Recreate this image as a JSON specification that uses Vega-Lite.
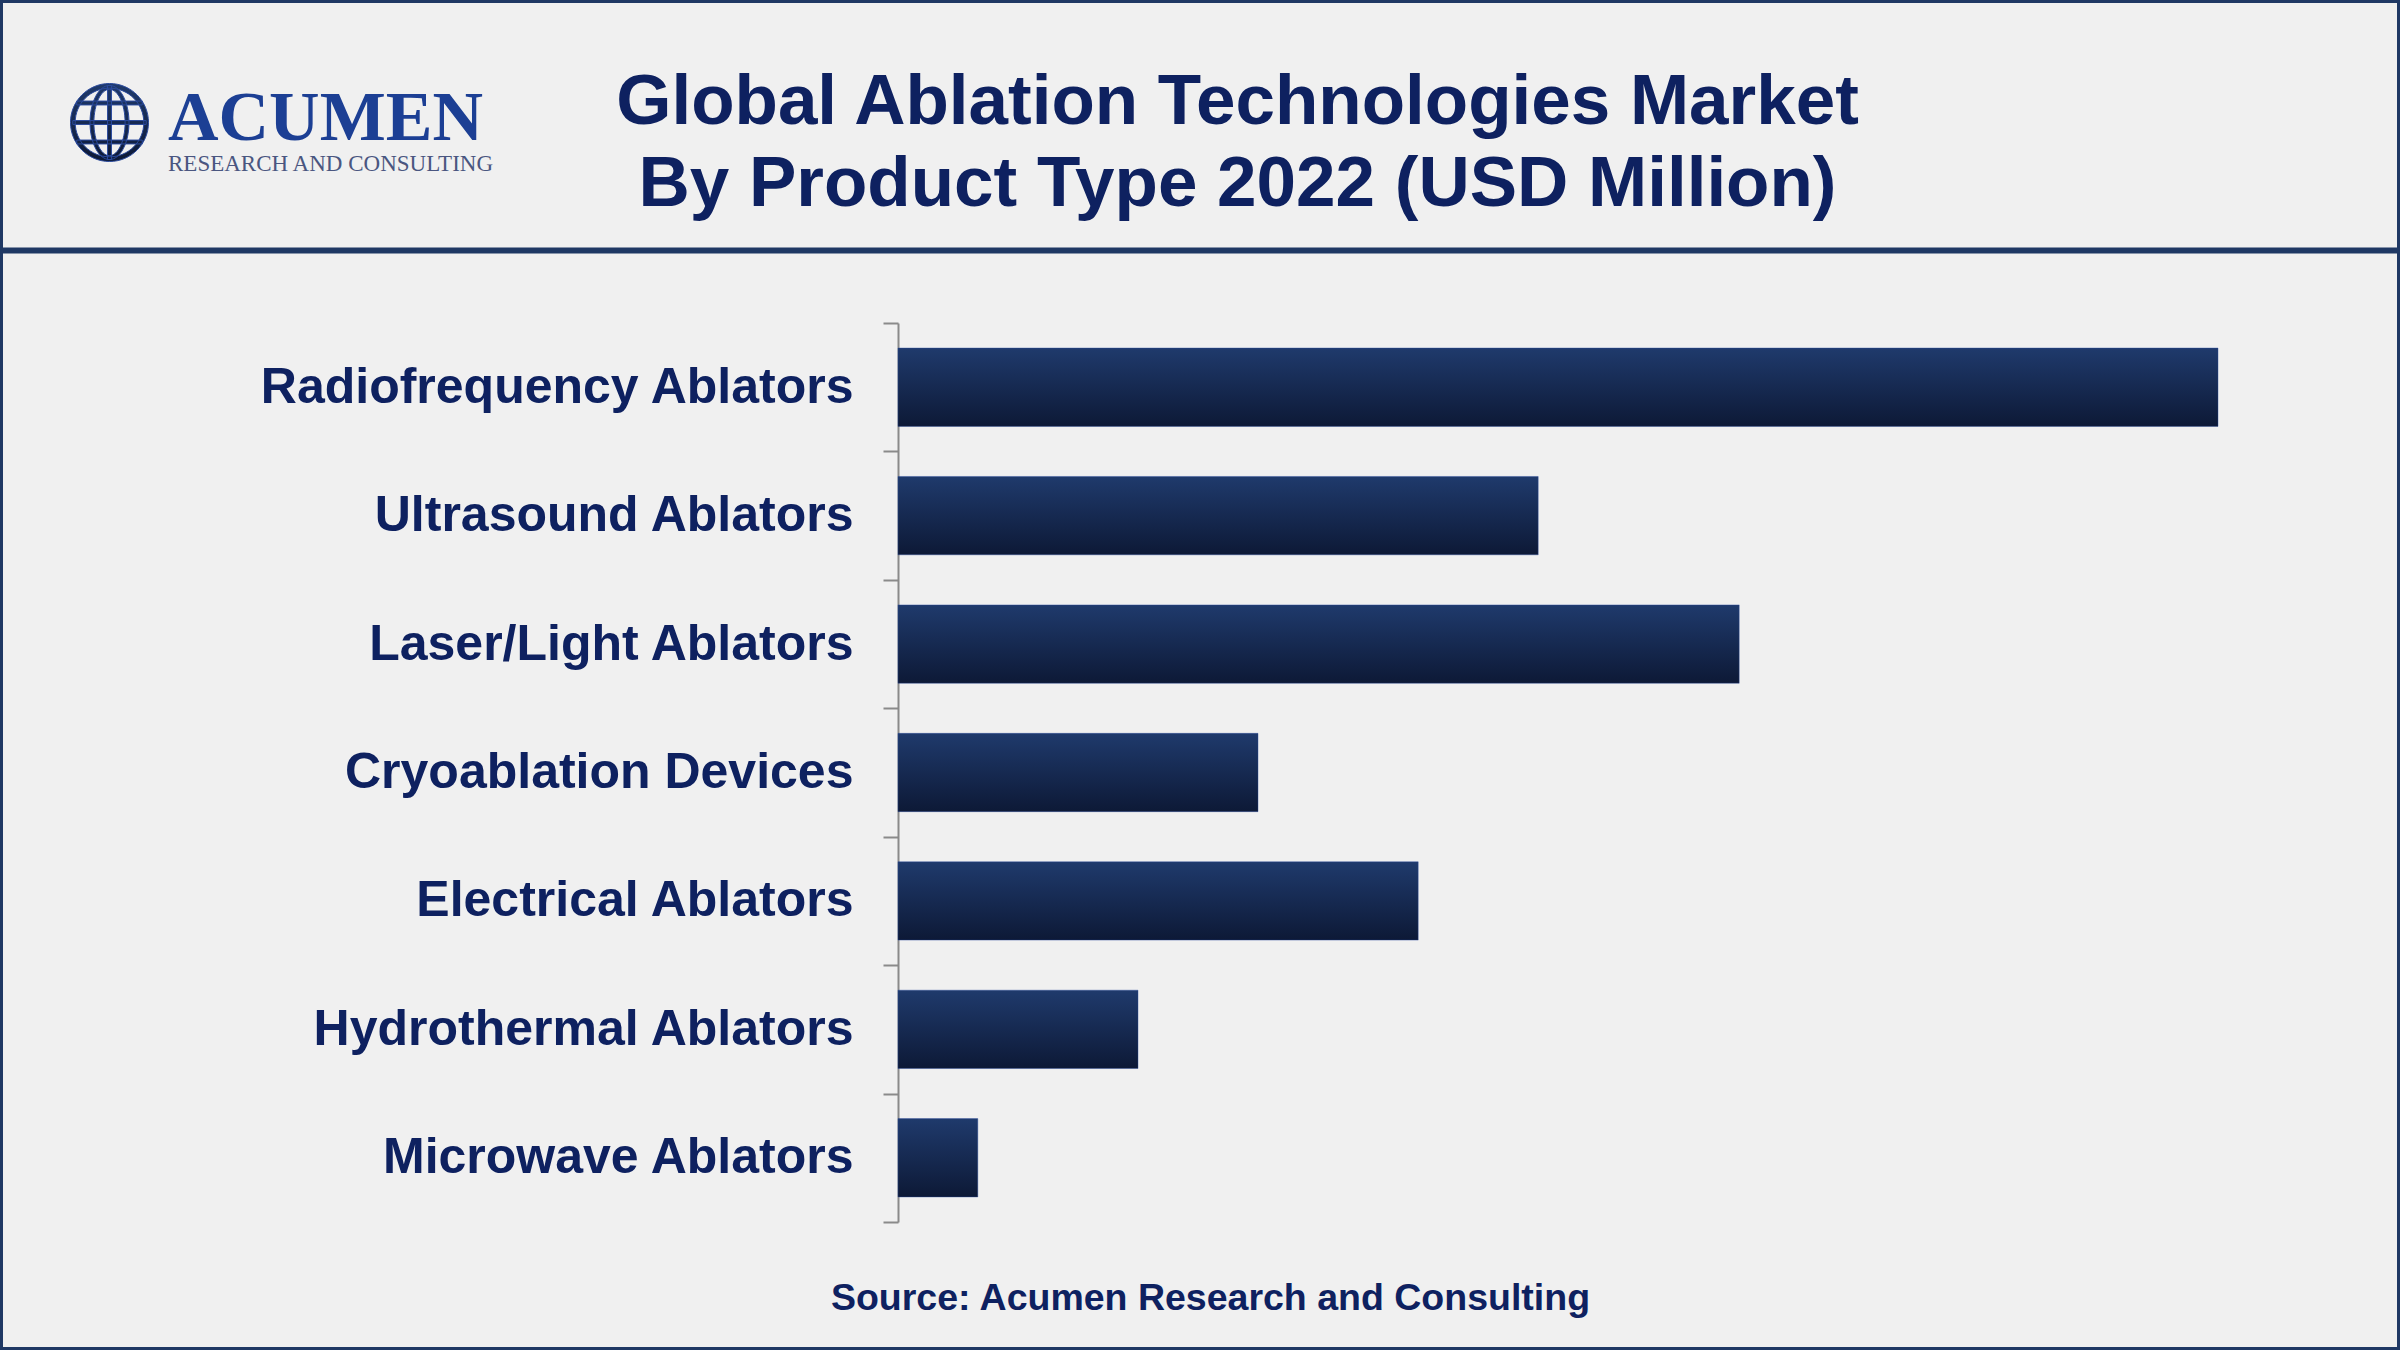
{
  "$schema": "https://vega.github.io/schema/vega-lite/v6.json",
  "description": "Global ablation technologies market by product type, 2022 (USD Million).",
  "width": 2400,
  "height": 1350,
  "autosize": {"type": "none"},
  "padding": 0,
  "background": "#f0f0f0",
  "data": {
    "values": [
      {"product": "Radiofrequency Ablators", "value": 2200},
      {"product": "Ultrasound Ablators", "value": 1067},
      {"product": "Laser/Light Ablators", "value": 1402},
      {"product": "Cryoablation Devices", "value": 600},
      {"product": "Electrical Ablators", "value": 867},
      {"product": "Hydrothermal Ablators", "value": 400},
      {"product": "Microwave Ablators", "value": 133}
    ]
  },
  "title": {
    "text": "ACUMEN",
    "subtitle": "RESEARCH AND CONSULTING",
    "anchor": "start",
    "frame": "group",
    "orient": "top",
    "offset": -202,
    "dx": 168,
    "font": "Liberation Serif",
    "fontSize": 70,
    "fontWeight": "bold",
    "color": "#1c3f94",
    "subtitleFont": "Liberation Serif",
    "subtitleFontSize": 23,
    "subtitleColor": "#4a5680",
    "subtitlePadding": -2
  },
  "mark": {
    "type": "bar",
    "height": {"band": 0.61},
    "color": {
      "gradient": "linear",
      "x1": 0, "y1": 0, "x2": 0, "y2": 1,
      "stops": [
        {"offset": 0, "color": "#1f3a6c"},
        {"offset": 1, "color": "#0d1936"}
      ]
    },
    "strokeWidth": 1,
    "strokeOpacity": 0.4
  },
  "encoding": {
    "y": {
      "field": "product",
      "type": "nominal",
      "sort": null,
      "scale": {"range": [323, 1222], "paddingInner": 0, "paddingOuter": 0},
      "axis": {
        "orient": "left",
        "offset": -898,
        "title": "Source: Acumen Research and Consulting",
        "titleAngle": 0,
        "titleX": 312,
        "titleY": 1309,
        "titleAlign": "center",
        "titleBaseline": "alphabetic",
        "titleFont": "Liberation Sans",
        "titleFontSize": 37.5,
        "titleFontWeight": "bold",
        "titleColor": "#0e2160",
        "labelFont": "Liberation Sans",
        "labelFontSize": 50,
        "labelFontWeight": "bold",
        "labelColor": "#0e2160",
        "labelPadding": 30,
        "labelLimit": 0,
        "tickSize": 15,
        "tickBand": "extent",
        "tickColor": "#8a8a8a",
        "tickWidth": 2,
        "domainColor": "#8a8a8a",
        "domainWidth": 2
      }
    },
    "x": {
      "field": "value",
      "type": "quantitative",
      "scale": {"domain": [-1496.67, 2503.33], "nice": false, "zero": false},
      "axis": {
        "orient": "top",
        "offset": -250,
        "labels": false,
        "ticks": false,
        "grid": false,
        "domainColor": "#1f3864",
        "domainWidth": 6,
        "title": ["Global Ablation Technologies Market", "By Product Type 2022 (USD Million)"],
        "titleX": 1237,
        "titleY": -127,
        "titleAlign": "center",
        "titleBaseline": "alphabetic",
        "titleLineHeight": 82,
        "titleFont": "Liberation Sans",
        "titleFontSize": 71,
        "titleFontWeight": "bold",
        "titleColor": "#0e2160"
      }
    },
    "stroke": {
      "datum": "Acumen",
      "type": "nominal",
      "scale": {"range": ["#2a4a9e"]},
      "legend": {
        "orient": "none",
        "legendX": 70,
        "legendY": 83,
        "title": null,
        "padding": 0,
        "labelExpr": "''",
        "symbolType": "M-1,0A1,1,0,1,1,1,0A1,1,0,1,1,-1,0Z M-0.88,0A0.88,0.88,0,1,0,0.88,0A0.88,0.88,0,1,0,-0.88,0Z M-0.5,0A0.5,0.95,0,1,1,0.5,0A0.5,0.95,0,1,1,-0.5,0Z M-0.4,0A0.4,0.85,0,1,0,0.4,0A0.4,0.85,0,1,0,-0.4,0Z M-0.05,-0.95L0.05,-0.95L0.05,0.95L-0.05,0.95Z M-0.94,-0.05L0.94,-0.05L0.94,0.05L-0.94,0.05Z M-0.84,-0.55L0.84,-0.55L0.84,-0.45L-0.84,-0.45Z M-0.84,0.45L0.84,0.45L0.84,0.55L-0.84,0.55Z",
        "symbolSize": 6084,
        "symbolStrokeWidth": 1
      }
    }
  },
  "config": {
    "view": {"stroke": "#1f3864", "strokeWidth": 6}
  }
}
